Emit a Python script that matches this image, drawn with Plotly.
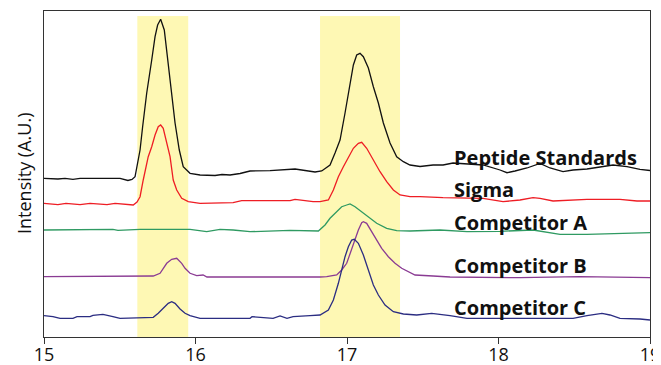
import plotly.graph_objects as go

# ---- data (time in min, intensity in A.U., traces stacked) ----
pep_t = [15.000, 15.092, 15.139, 15.191, 15.238, 15.416, 15.502, 15.554, 15.581, 15.601, 15.634, 15.651,
         15.678, 15.711, 15.733, 15.750, 15.770, 15.794, 15.820, 15.843, 15.865, 15.893, 15.919, 15.964,
         16.030, 16.129, 16.175, 16.228, 16.294, 16.360, 16.492, 16.657, 16.723, 16.789, 16.833, 16.888,
         16.921, 16.954, 16.987, 17.020, 17.042, 17.064, 17.086, 17.108, 17.141, 17.174, 17.207, 17.240,
         17.284, 17.328, 17.372, 17.416, 17.482, 17.568, 17.634, 17.700, 17.812, 17.898, 18.010, 18.056,
         18.109, 18.188, 18.274, 18.340, 18.426, 18.492, 18.584, 18.670, 18.756, 18.848, 18.934, 19.000]
pep_y = [158.7, 158.0, 158.7, 157.7, 158.7, 159.0, 158.7, 156.5, 157.5, 160.3, 187.0, 210.3,
         244.0, 277.0, 300.3, 312.0, 317.7, 307.0, 274.0, 244.0, 214.0, 187.0, 170.3, 163.7,
         162.0, 161.5, 162.5, 162.0, 163.5, 166.0, 166.3, 168.0, 166.3, 165.0, 166.0, 172.0,
         184.0, 197.0, 224.0, 254.0, 272.0, 282.0, 283.7, 280.3, 269.0, 250.3, 234.0, 214.0,
         194.0, 180.3, 175.3, 172.0, 170.5, 172.0, 172.0, 174.0, 173.0, 172.0, 167.0, 164.3,
         166.0, 169.0, 173.5, 169.0, 165.3, 167.0, 168.0, 170.0, 172.0, 170.3, 167.7, 166.5]

sig_t = [15.000, 15.092, 15.145, 15.238, 15.304, 15.416, 15.469, 15.589, 15.614, 15.634, 15.655, 15.688,
         15.711, 15.733, 15.754, 15.770, 15.787, 15.810, 15.832, 15.853, 15.876, 15.909, 15.952, 16.030,
         16.248, 16.305, 16.624, 16.657, 16.723, 16.776, 16.822, 16.877, 16.910, 16.943, 16.976, 17.009,
         17.042, 17.075, 17.097, 17.130, 17.174, 17.218, 17.262, 17.306, 17.350, 17.416, 17.482, 17.634,
         17.898, 18.030, 18.142, 18.228, 18.274, 18.360, 18.584, 18.802, 18.914, 19.000]
sig_y = [133.7, 132.3, 133.7, 132.3, 133.7, 132.3, 133.7, 132.0, 135.0, 140.3, 157.0, 180.3,
         190.3, 202.0, 210.3, 212.0, 208.7, 193.7, 180.3, 157.0, 147.0, 138.7, 135.3, 133.7,
         134.3, 136.3, 136.3, 137.7, 136.5, 135.3, 135.3, 137.0, 147.0, 160.3, 170.3, 180.3,
         188.7, 193.7, 194.7, 188.7, 177.0, 165.3, 155.3, 147.0, 142.0, 140.3, 140.3, 139.3,
         138.7, 135.3, 137.0, 139.3, 138.7, 136.0, 137.7, 137.7, 136.0, 136.0]

ca_t = [15.000, 15.323, 15.356, 15.455, 15.488, 15.614, 15.634, 15.964, 16.030, 16.074, 16.162, 16.248,
        16.360, 16.624, 16.811, 16.855, 16.888, 16.932, 16.965, 16.998, 17.020, 17.053, 17.108, 17.152,
        17.196, 17.262, 17.328, 17.416, 17.614, 17.792, 18.010, 18.228, 18.406, 18.584, 18.782, 19.000]
ca_y = [107.0, 107.0, 107.7, 107.7, 106.7, 107.0, 107.7, 107.7, 106.3, 105.3, 107.7, 107.0,
        105.3, 106.7, 106.0, 112.0, 118.7, 125.3, 130.3, 132.0, 133.0, 130.3, 123.7, 118.7,
        113.7, 108.7, 106.3, 106.0, 107.0, 105.3, 105.7, 107.0, 102.7, 102.7, 103.7, 104.3]

cb_t = [15.000, 15.634, 15.721, 15.766, 15.787, 15.810, 15.843, 15.876, 15.909, 15.931, 15.964, 16.008,
        16.050, 16.076, 16.822, 16.866, 16.932, 16.965, 16.998, 17.031, 17.053, 17.075, 17.097, 17.108,
        17.130, 17.163, 17.196, 17.229, 17.273, 17.317, 17.361, 17.405, 17.449, 17.568, 17.680, 18.142,
        18.538, 19.000]
cb_y = [60.3, 60.3, 61.0, 63.7, 68.7, 73.7, 77.7, 78.7, 73.7, 68.7, 63.7, 61.3,
        62.0, 60.0, 60.0, 60.3, 62.0, 67.0, 73.7, 88.7, 97.0, 107.0, 114.3, 115.3,
        113.7, 105.3, 97.0, 88.7, 80.3, 73.7, 68.7, 65.3, 62.0, 61.0, 60.0, 59.3,
        60.3, 59.3]

cc_t = [15.000, 15.059, 15.106, 15.191, 15.218, 15.304, 15.323, 15.389, 15.455, 15.502, 15.721, 15.754,
        15.787, 15.820, 15.843, 15.865, 15.898, 15.931, 15.964, 16.030, 16.360, 16.373, 16.512, 16.558,
        16.604, 16.644, 16.756, 16.822, 16.877, 16.910, 16.943, 16.965, 16.987, 17.009, 17.031, 17.048,
        17.075, 17.108, 17.141, 17.174, 17.207, 17.251, 17.306, 17.372, 17.460, 17.559, 17.680, 17.792,
        18.010, 18.340, 18.492, 18.584, 18.683, 18.736, 18.802, 18.934, 19.000]
cc_y = [21.3, 20.3, 18.7, 18.7, 20.3, 20.3, 21.7, 22.7, 20.3, 18.7, 19.7, 23.7,
        28.7, 33.7, 35.3, 33.7, 28.0, 23.7, 21.3, 18.7, 18.7, 20.3, 18.7, 21.0,
        18.7, 20.3, 21.3, 22.0, 27.0, 37.0, 53.7, 67.0, 80.3, 90.3, 97.0, 97.7,
        93.7, 82.0, 67.0, 52.0, 42.0, 32.0, 25.3, 23.0, 22.0, 23.7, 21.3, 18.7,
        18.7, 18.7, 18.7, 21.3, 23.7, 22.0, 18.7, 18.0, 17.0]

series_names = ["Peptide Standards", "Sigma", "Competitor A", "Competitor B", "Competitor C"]
series_t = [pep_t, sig_t, ca_t, cb_t, cc_t]
series_y = [pep_y, sig_y, ca_y, cb_y, cc_y]
label_y = [180, 148, 114.5, 71.5, 30]
label_x = 17.69
highlight_windows = [(15.616, 15.952), (16.822, 17.350)]
highlight_top = 321
x_ticks = [15, 16, 17, 18, 19]

colors = ["#111111", "#ee1d24", "#2f9a62", "#8a3b93", "#2b2d82"]

fig = go.Figure()
for name, t, y, c in zip(series_names, series_t, series_y, colors):
    fig.add_trace(go.Scatter(x=t, y=y, mode="lines", name=name,
                             line=dict(color=c, width=1.3), showlegend=False))

for (a, b) in highlight_windows:
    fig.add_shape(type="rect", xref="x", yref="y", x0=a, x1=b, y0=0, y1=highlight_top,
                  fillcolor="#fef8b4", line=dict(width=0), layer="below")

for name, ly in zip(series_names, label_y):
    fig.add_annotation(x=label_x, y=ly, xref="x", yref="y", text="<b>%s</b>" % name,
                       showarrow=False, xanchor="left", yanchor="middle",
                       font=dict(family="Open Sans", size=20, color="#111111"))

# y-axis title placed as rotated text left of the plot frame
fig.add_annotation(x=0, y=0.5, xref="paper", yref="paper", text="Intensity (A.U.)",
                   textangle=-90, showarrow=False, xanchor="center", yanchor="middle", xshift=-20,
                   font=dict(family="Open Sans", size=18, color="#111111"))

# page body adds an 8px offset, so the figure is 8px smaller than the window
fig.update_layout(
    width=653, height=357,
    margin=dict(l=36, r=11, t=3, b=28),
    paper_bgcolor="white", plot_bgcolor="white",
    font=dict(family="Open Sans", color="#111111"),
)
fig.update_xaxes(range=[15, 19], tickvals=x_ticks, ticks="outside", ticklen=6, tickcolor="#333333",
                 showline=True, mirror=True, linecolor="#333333", linewidth=1, showgrid=False,
                 zeroline=False, automargin=False, ticklabelstandoff=-5,
                 tickfont=dict(size=18, family="Open Sans", color="#111111"))
fig.update_yaxes(range=[0, 326], showticklabels=False, ticks="", showline=True, mirror=True,
                 linecolor="#333333", linewidth=1, showgrid=False, zeroline=False, automargin=False)

fig.write_html("out.html")
